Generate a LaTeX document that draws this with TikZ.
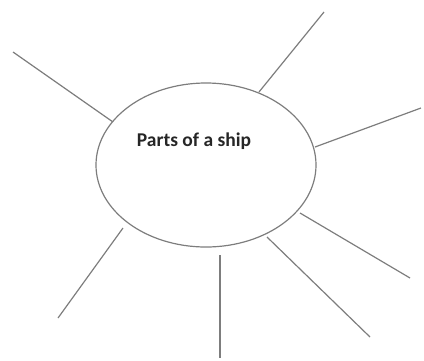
\documentclass[tikz,border=0pt]{standalone}
\usepackage{fontspec}
\setmainfont{Carlito}
\usetikzlibrary{shapes.geometric}
\definecolor{linegray}{RGB}{125,125,125}
\tikzset{
  spoke/.style={draw=linegray, line width=1.2pt},
  bubble/.style={draw=linegray, line width=1.2pt, ellipse, minimum width=220pt, minimum height=164pt, inner sep=0pt}
}
\begin{document}
\begin{tikzpicture}[x=1pt,y=-1pt]
\useasboundingbox (0,0) rectangle (424,360);
\node[bubble] (e) at (206,165) {};
\node[font=\bfseries\fontsize{19.5}{21}\selectfont, text=black!85, anchor=base, inner sep=0pt] (t) at (194,146) {Parts of a ship};
% spoke endpoints
\coordinate (a1) at (113,122); \coordinate (b1) at (13,52);
\coordinate (a2) at (259,92);  \coordinate (b2) at (324,12);
\coordinate (a3) at (315,147); \coordinate (b3) at (421,108);
\coordinate (a4) at (300,213); \coordinate (b4) at (410,278);
\coordinate (a5) at (267,237); \coordinate (b5) at (370,337);
\coordinate (a6) at (220,255); \coordinate (b6) at (220,358);
\coordinate (a7) at (123,228); \coordinate (b7) at (58,318);
\foreach \i in {1,...,7} {\draw[spoke] (a\i) -- (b\i);}
\end{tikzpicture}
\end{document}
